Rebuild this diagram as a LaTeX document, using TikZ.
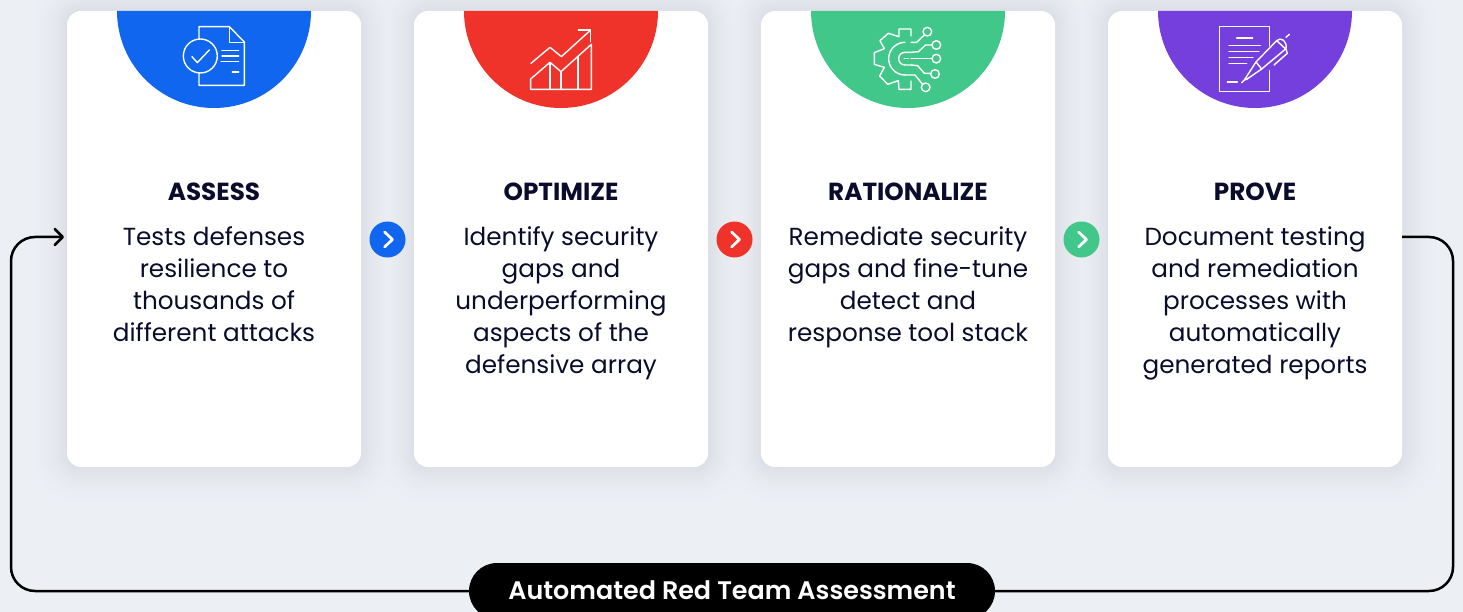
\documentclass[tikz,border=0pt]{standalone}
\usepackage{fontspec}
\setmainfont{Poppins}
\newfontfamily\pillfont{Poppins SemiBold}
\usepackage{xcolor}
\usetikzlibrary{shapes,positioning,arrows.meta}
\definecolor{pagebg}{HTML}{ECEFF4}
\definecolor{shadowc}{HTML}{DCDFE5}
\definecolor{inkc}{HTML}{0B0B2B}
\definecolor{bluec}{HTML}{1066EE}
\definecolor{redc}{HTML}{F0332A}
\definecolor{greenc}{HTML}{42C78A}
\definecolor{purplec}{HTML}{753FDD}
\tikzset{card/.style={draw=none,fill=white,rounded corners=14,minimum width=294,minimum height=456,inner sep=0},
  head/.style={font=\fontsize{24.7}{30}\selectfont\bfseries,text=inkc,inner sep=0},
  body/.style={font=\fontsize{24.7}{32}\selectfont,text=inkc,align=center,anchor=north,inner sep=0},
  nxt/.style={circle,fill=#1,minimum size=36,inner sep=0,path picture={\draw[white,line width=2.8,line cap=round,line join=round]
    ([xshift=-2.8,yshift=7.5]path picture bounding box.center) -- ([xshift=4.8]path picture bounding box.center) -- ([xshift=-2.8,yshift=-7.5]path picture bounding box.center);}},
  pill/.style={fill=black,text=white,rounded corners=28,minimum width=526,minimum height=56,inner sep=0,font=\fontsize{25.4}{30}\selectfont\pillfont},
  link/.style={draw=black,line width=2.5,rounded corners=24},
  icon/.style={draw=white,line width=1.4,line join=round,line cap=round}}
\newcommand{\cardshadow}[2]{\fill[shadowc!\p!pagebg,rounded corners=14+#2] ([shift={(-147-#2,-228-#2)}]#1) rectangle ([shift={(147+#2,228+#2)}]#1);}
\newcommand{\capdisc}[2]{\fill[#2] (#1-97,11) arc[start angle=180,end angle=360,x radius=97,y radius=-97] -- cycle;}
\begin{document}
\begin{tikzpicture}[x=1pt,y=-1pt,>=stealth]
        \useasboundingbox (0,0) rectangle (1463,612);
        \fill[pagebg] (0,0) rectangle (1463,612);

        \coordinate (a0) at (214,239);
        \coordinate (b0) at (561,239);
        \coordinate (c0) at (908,239);
        \coordinate (d0) at (1255,239);
        \foreach \s in {40,38,...,2} {
            \pgfmathsetmacro{\p}{100*(1-\s/42)*(1-\s/42)}
            \cardshadow{a0}{\s}
            \cardshadow{b0}{\s}
            \cardshadow{c0}{\s}
            \cardshadow{d0}{\s}
        }

        \node[card] (a) at (a0) {};
        \node[card] (b) at (b0) {};
        \node[card] (c) at (c0) {};
        \node[card] (d) at (d0) {};

        \capdisc{214}{bluec}
        \capdisc{561}{redc}
        \capdisc{908}{greenc}
        \capdisc{1255}{purplec}

        \node[head] (h1) at (214,191.5) {ASSESS};
        \node[head] (h2) at (561,191.5) {OPTIMIZE};
        \node[head] (h3) at (908,191.5) {RATIONALIZE};
        \node[head] (h4) at (1255,191.5) {PROVE};

        \node[body] (t1) at (214,223.3) {\strut Tests defenses\\resilience to\\thousands of\\different attacks};
        \node[body] (t2) at (561,223.3) {\strut Identify security\\gaps and\\underperforming\\aspects of the\\defensive array};
        \node[body] (t3) at (908,223.3) {\strut Remediate security\\gaps and fine-tune\\detect and\\response tool stack};
        \node[body] (t4) at (1255,223.3) {\strut Document testing\\and remediation\\processes with\\automatically\\generated reports};

        \node[nxt=bluec] (n1) at (387.5,239.5) {};
        \node[nxt=redc] (n2) at (734.5,239.5) {};
        \node[nxt=greenc] (n3) at (1081.5,239.5) {};

        \node[pill] (p) at (732,591) {\raisebox{1pt}{Automated Red Team Assessment}};
        \coordinate (in) at (64,237);
        \coordinate (out) at (1402,237);
        \coordinate (lc) at (11,237);
        \coordinate (rc) at (1453,237);

        \draw [link,-{Straight Barb[length=8,width=16,line width=2.6,round]}] (p.west) -| (lc) -- (in);
        \draw [link] (out) -- (rc) |- (p.east);

        % document icon
        \begin{scope}[shift={(110,0)},x=0.3333pt,y=-0.3333pt]
        \draw [icon] (267,118) -- (267,80) -- (358,80) -- (403,126) -- (403,256) -- (267,256) -- (267,219);
        \draw [icon] (358,80) -- (358,127) -- (403,127);
        \draw [icon] (271,168) circle (51);
        \draw [icon] (246,170) -- (262,188) -- (298,150);
        \draw [icon] (336,152) -- (386,152);
        \draw [icon] (336,168) -- (386,168);
        \draw [icon] (333,184) -- (386,184);
        \draw [icon] (367,216) -- (386,216);
        \end{scope}

        % chart icon
        \begin{scope}[shift={(460,0)},x=0.3333pt,y=-0.3333pt]
        \draw [icon] (213,190) -- (270,142) -- (304,170) -- (390,92);
        \draw [icon] (355,90) -- (392,90) -- (392,125);
        \draw [icon] (212,237) -- (270,187) -- (303,215) -- (394,133) -- (394,268) -- (212,268) -- cycle;
        \draw [icon] (270,187) -- (270,268);
        \draw [icon] (303,215) -- (303,268);
        \draw [icon] (354,170) -- (354,268);
        \end{scope}

        % gear icon
        \begin{scope}[shift={(805,0)},x=0.3333pt,y=-0.3333pt]
        \draw [icon] (318,108) -- (318,87) -- (282,87) -- (282,110) -- (250,100) -- (225,122) -- (238,146) -- (208,158) -- (208,193) -- (238,202) -- (224,228) -- (248,253) -- (280,242) -- (282,268) -- (318,268) -- (318,243);
        \draw [icon] (300,127) .. controls (273,127) and (251,149) .. (251,176) .. controls (251,203) and (273,225) .. (300,225);
        \draw [icon] (318,157) -- (300,157) .. controls (289,157) and (281,165) .. (281,176) .. controls (281,187) and (289,195) .. (300,195) -- (318,195);
        \draw [icon] (298,176) -- (310,176);
        \draw [icon] (318,176) -- (381,176);
        \draw [icon] (318,127) -- (335,127) -- (358,105);
        \draw [icon] (318,157) -- (340,155) -- (362,135) -- (381,135);
        \draw [icon] (318,195) -- (338,197) -- (358,220) -- (376,220);
        \draw [icon] (300,225) -- (330,225) -- (352,252);
        \draw [icon] (367,95) circle (13);
        \draw [icon] (394,135) circle (13);
        \draw [icon] (394,176) circle (13);
        \draw [icon] (390,222) circle (13);
        \draw [icon] (362,262) circle (13);
        \end{scope}

        % pen icon
        \begin{scope}[shift={(1150,0)},x=0.3333pt,y=-0.3333pt]
        \draw [icon] (358,138) -- (358,80) -- (209,80) -- (209,275) -- (358,275) -- (358,212);
        \draw [icon] (260,114) -- (308,114);
        \draw [icon] (237,136) -- (331,136);
        \draw [icon] (237,155) -- (327,155);
        \draw [icon] (237,173) -- (309,173);
        \draw [icon] (237,191) -- (290,191);
        \draw [icon] (232,246) -- (262,246);
        \draw [icon] (275,248) -- (283,240) -- (318,186) -- (380,122) .. controls (392,110) and (412,122) .. (408,146) -- (335,207) -- (290,238) -- (283,240);
        \draw [icon] (318,186) -- (335,207);
        \draw [icon] (380,122) -- (408,148);
        \draw [icon] (408,148) -- (412,160) -- (372,195);
        \draw [icon] (408,112) -- (418,103);
        \end{scope}
    \end{tikzpicture}
\end{document}
